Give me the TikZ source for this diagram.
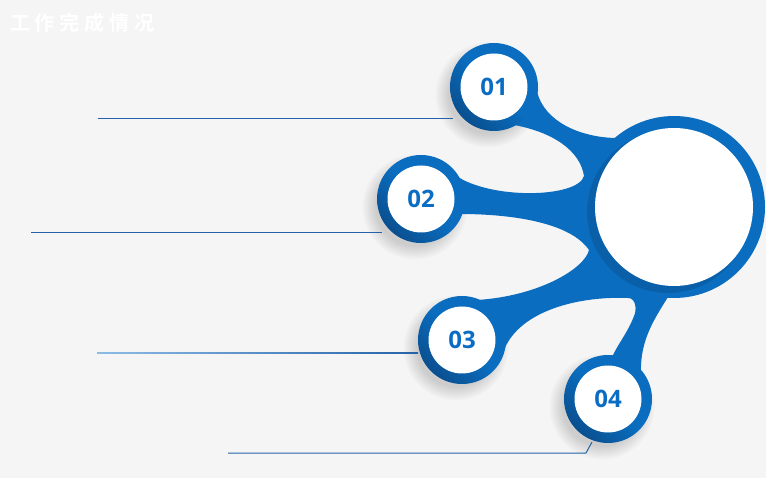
\documentclass[tikz,border=0pt]{standalone}
\usepackage{fontspec}
\newfontfamily\cjk{Noto Sans CJK SC}[LetterSpace=24, BoldFont={Noto Sans CJK SC Bold}]
\newfontfamily\numfont{Open Sans}
\definecolor{bg}{HTML}{F5F5F5}
\definecolor{blueM}{HTML}{0A6DBF}
\definecolor{blueD}{HTML}{0A4F8F}
\definecolor{numc}{HTML}{0B6CC4}
\definecolor{linec}{HTML}{2462A8}
\definecolor{linel}{HTML}{8DBBE6}
\tikzset{
  ring/.style={circle, inner sep=0pt, minimum size=88pt, top color=blueM, bottom color=blueD, middle color=blueM, shading angle=-45},
  inner/.style={circle, inner sep=0pt, minimum size=67pt, fill=white, text=numc, font=\numfont\bfseries\fontsize{24}{24}\selectfont},
  guide/.style={draw=linec, line width=1pt},
}
\begin{document}
\begin{tikzpicture}[x=1pt,y=-1pt]
\useasboundingbox (0,0) rectangle (766,478);
\fill[bg] (0,0) rectangle (766,478);
% soft shadows
\foreach \cx/\cy in {494/87, 421/199, 462/340, 608/399}{
  \foreach \k in {1,...,8}
    \fill[black, opacity=0.018] (\cx-6,\cy+8) circle (38+\k*1.8);
}
% connecting blob
\fill[blueM] (615,138) .. controls (580,137) and (545,122) .. (537,92) -- (494,87) -- (514,125)
  .. controls (552,132) and (580,150) .. (584,176)
  .. controls (578,198) and (490,200) .. (455,175) -- (421,199) -- (460,214)
  .. controls (510,214) and (570,222) .. (589,250)
  .. controls (585,268) and (540,296) .. (477,300) -- (462,340) -- (504,350)
  .. controls (520,310) and (580,296) .. (628,298)
  .. controls (636,298) and (637,310) .. (634,316)
  .. controls (628,332) and (618,344) .. (612,357) -- (608,399) -- (641,372)
  .. controls (640,340) and (655,318) .. (668,297) -- (674,207) -- cycle;
% big circle
\node[circle, inner sep=0pt, minimum size=182pt, fill=blueM] (big) at (674,207) {};
\fill[blueD, opacity=0.45] (668,212) circle (81);
\node[circle, inner sep=0pt, minimum size=158pt, fill=white] (bigw) at (big) {};
% small circles
\node[ring] (c1) at (494,87) {};
\node[ring] (c2) at (421,199) {};
\node[ring] (c3) at (462,340) {};
\node[ring] (c4) at (608,399) {};
\node[inner] (n1) at (c1) {01};
\node[inner] (n2) at (c2) {02};
\node[inner] (n3) at (c3) {03};
\node[inner] (n4) at (c4) {04};
% guide lines
\coordinate (l1a) at (98,119); \coordinate (l1b) at (453,119);
\coordinate (l2a) at (31,233); \coordinate (l2b) at (382,233);
\coordinate (l4a) at (228,453); \coordinate (l4b) at (586,453); \coordinate (l4c) at (592,442);
\draw[guide] (l1a) -- (l1b);
\draw[guide] (l2a) -- (l2b);
\shade[left color=linel, right color=linec] (97,352.3) rectangle (418,353.8);
\draw[guide] (l4a) -- (l4b) -- (l4c);
% title
\node[anchor=west, inner sep=0pt, text=white, font=\cjk\bfseries\fontsize{20}{20}\selectfont] (title) at (10,23) {工作完成情况};
\end{tikzpicture}
\end{document}
